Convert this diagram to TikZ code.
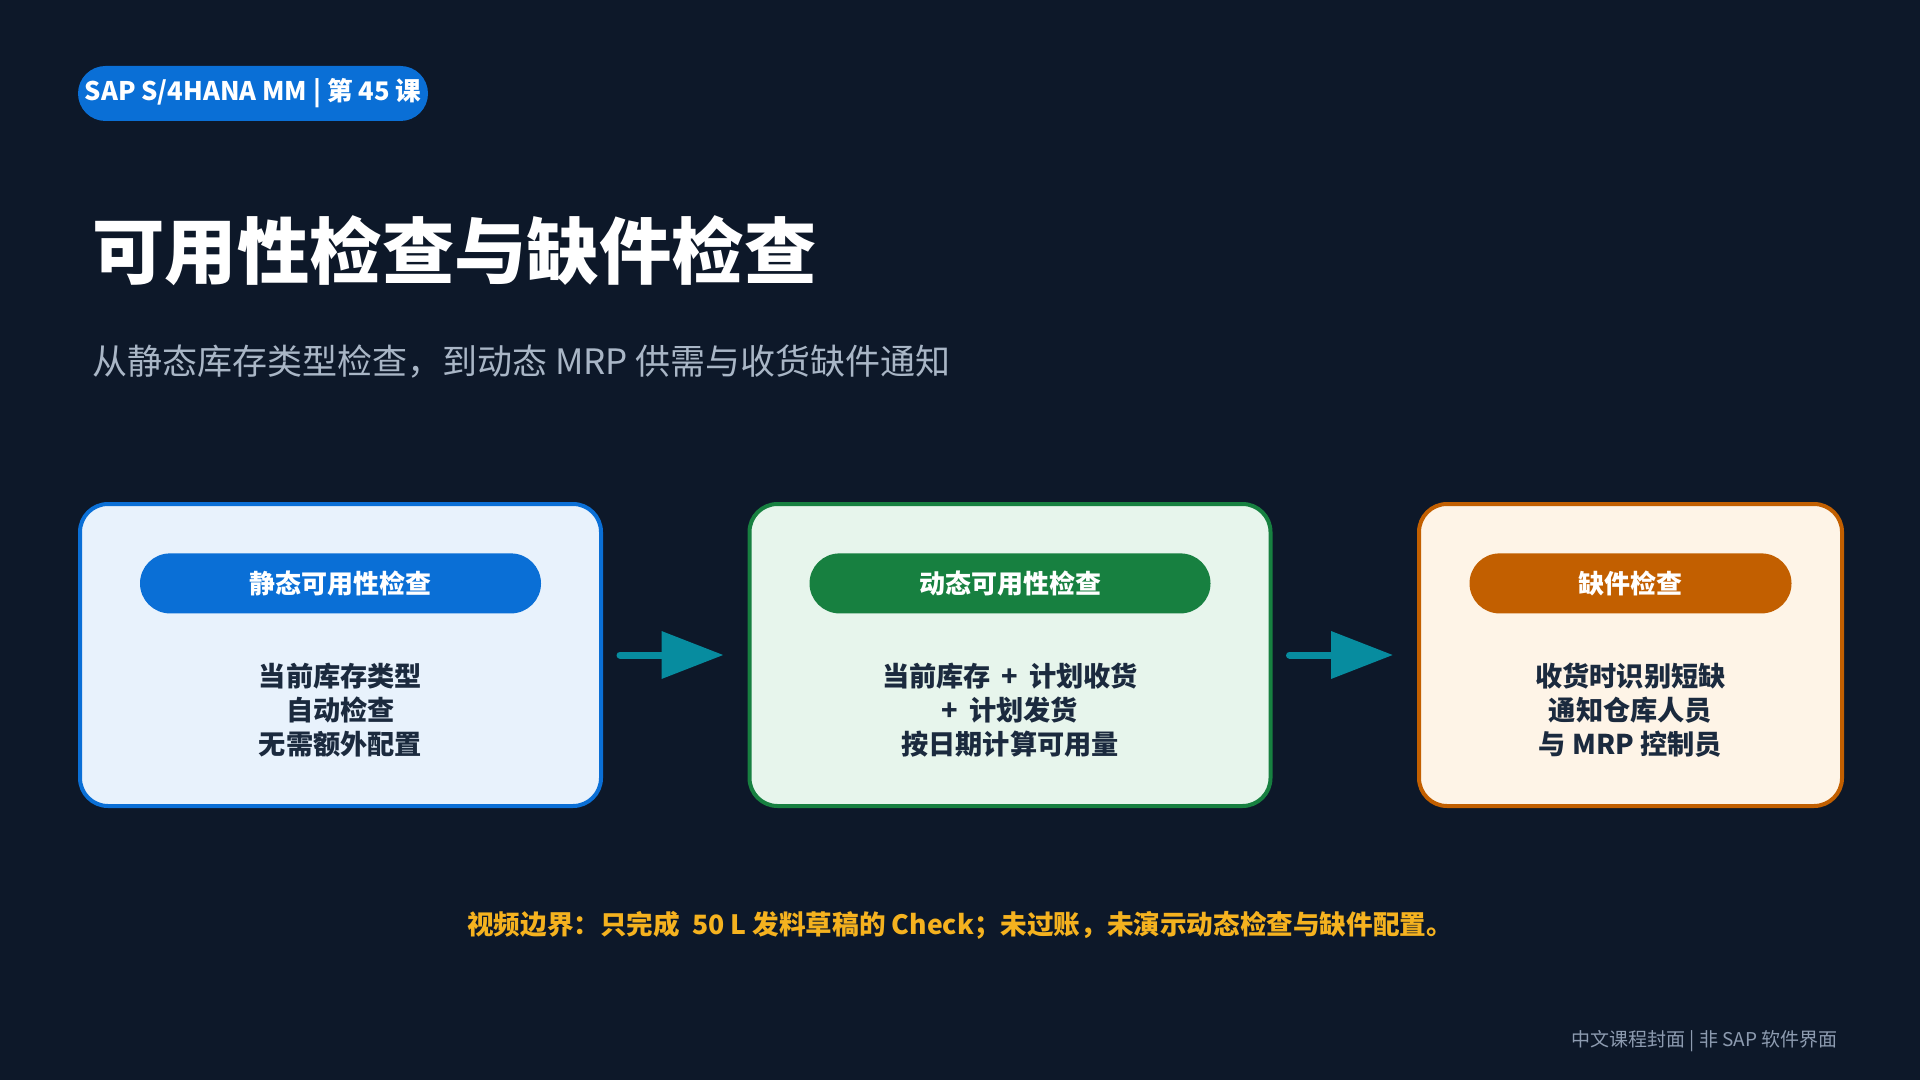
\documentclass[tikz,border=0pt]{standalone}
\usepackage{fontspec}
\setmainfont{Noto Sans CJK SC}
\usetikzlibrary{positioning,arrows.meta}
\definecolor{fond}{HTML}{0D1829}
\definecolor{bleu}{HTML}{0A6FD6}
\definecolor{bleuclair}{HTML}{E8F2FC}
\definecolor{vert}{HTML}{178040}
\definecolor{vertclair}{HTML}{E7F5EC}
\definecolor{orange}{HTML}{C25F00}
\definecolor{orangeclair}{HTML}{FEF4E7}
\definecolor{sarcelle}{HTML}{078C9F}
\definecolor{encre}{HTML}{1B2A3E}
\definecolor{gris}{HTML}{A9B6C6}
\definecolor{ambre}{HTML}{F5B21F}
\definecolor{grisfonce}{HTML}{8D9BB0}
\begin{document}
\begin{tikzpicture}[x=0.5pt,y=-0.5pt,
    carte/.style={draw, line width=2pt, rounded corners=14pt, inner sep=0pt,
      minimum width=260.5pt, minimum height=151pt},
    pilule/.style={rounded corners=15pt, inner sep=0pt, minimum height=30pt,
      text=white, font=\bfseries\fontsize{13}{15}\selectfont},
    corps/.style={align=center, text=encre, font=\bfseries\fontsize{13.6}{17}\selectfont},
    fleche/.style={-{Triangle[length=31pt,width=23pt]}, line width=3.5pt,
      color=sarcelle, line cap=round, shorten <=8.5pt, shorten >=12pt}]
  % fond de la page
  \fill[fond] (0,0) rectangle (1920,1080);
  \useasboundingbox (0,0) rectangle (1920,1080);
  % en-tete
  \node[fill=bleu, rounded corners=13.75pt, minimum width=175pt, minimum height=27.5pt,
    inner sep=0pt, text=white, font=\bfseries\fontsize{12.8}{14}\selectfont]
    (badge) at (253,93.5) {SAP S/4HANA MM | 第 45 课};
  \node[anchor=west, inner sep=0pt, text=white, font=\bfseries\fontsize{36.2}{40}\selectfont]
    (titre) at (92,251) {可用性检查与缺件检查};
  \node[anchor=west, inner sep=0pt, text=gris, font=\fontsize{17.5}{20}\selectfont]
    (soustitre) at (92,362) {从静态库存类型检查，到动态 MRP 供需与收货缺件通知};
  % les trois cartes
  \node[carte, draw=bleu, fill=bleuclair] (statique) at (340.5,655) {};
  \node[carte, draw=vert, fill=vertclair] (dynamique) at (1010,655) {};
  \node[carte, draw=orange, fill=orangeclair, minimum width=211.5pt] (manquant) at (1630.5,655) {};
  % etiquettes
  \node[pilule, fill=bleu, minimum width=200.5pt, below=25.5pt of statique.north] (pstatique) {静态可用性检查};
  \node[pilule, fill=vert, minimum width=200.5pt, below=25.5pt of dynamique.north] (pdynamique) {动态可用性检查};
  \node[pilule, fill=orange, minimum width=161pt, below=25.5pt of manquant.north] (pmanquant) {缺件检查};
  % textes des cartes
  \node[corps] (tstatique) at ([yshift=-27.5pt]statique.center) {当前库存类型\\自动检查\\无需额外配置};
  \node[corps] (tdynamique) at ([yshift=-27.5pt]dynamique.center) {当前库存 \,+\, 计划收货\\+\, 计划发货\\按日期计算可用量};
  \node[corps] (tmanquant) at ([yshift=-27.5pt]manquant.center) {收货时识别短缺\\通知仓库人员\\与 MRP 控制员};
  % fleches
  \draw[fleche] (statique) -- (dynamique);
  \draw[fleche] (dynamique) -- (manquant);
  % notes du bas
  \node[text=ambre, font=\bfseries\fontsize{13.3}{16}\selectfont]
    (limite) at (960,925) {视频边界：只完成 \ 50 L 发料草稿的 Check；未过账，未演示动态检查与缺件配置。};
  \node[anchor=east, inner sep=0pt, text=grisfonce, font=\fontsize{9.5}{11}\selectfont]
    (mention) at (1838,1041) {中文课程封面 | 非 SAP 软件界面};
\end{tikzpicture}
\end{document}
